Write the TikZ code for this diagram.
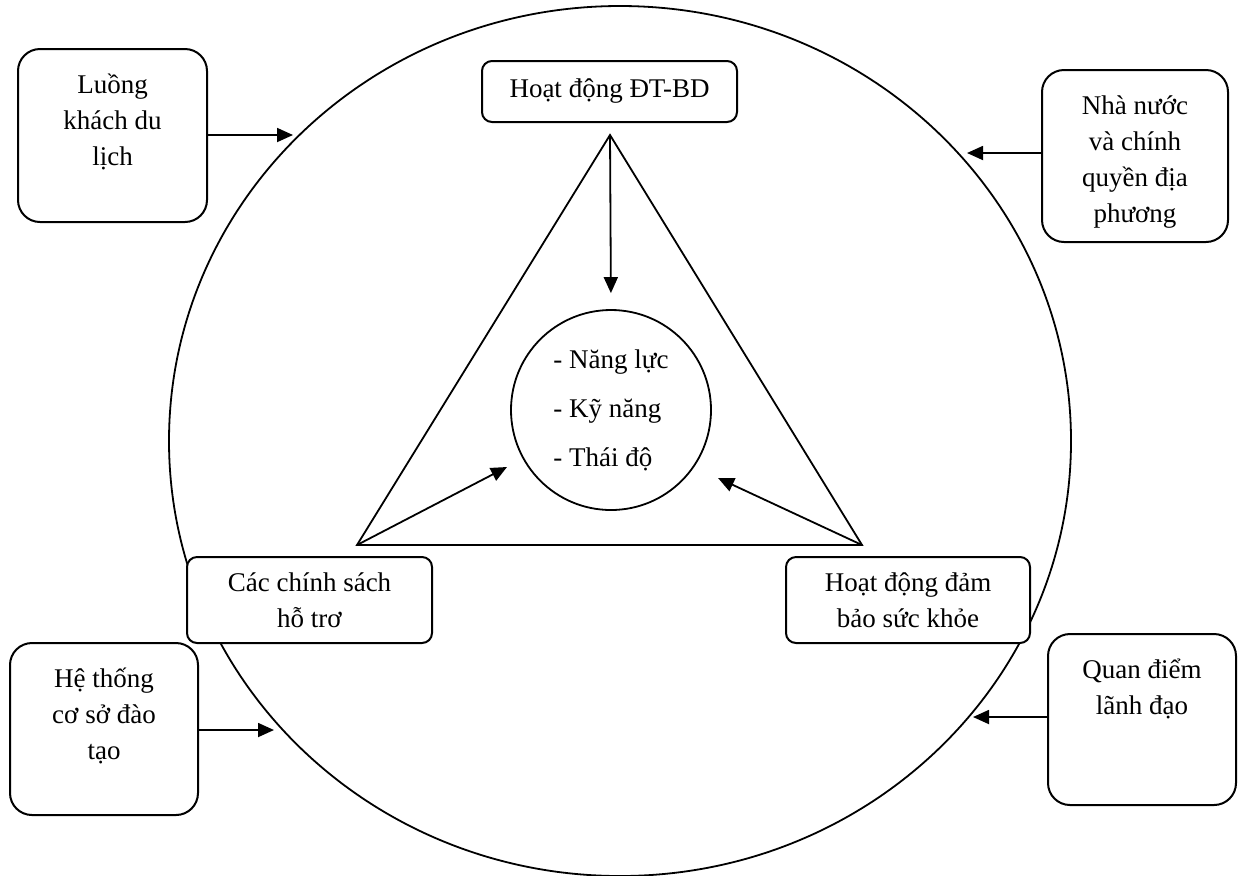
\documentclass[tikz,border=0pt]{standalone}
\usepackage{fontspec}
\setmainfont{Liberation Serif}
\usetikzlibrary{arrows.meta,shapes.geometric}
\newcommand\topcontent[3]{\parbox[c][#2][t]{#1}{\centering\vspace*{9.4pt}\strut #3}}
\tikzset{
  thinline/.style={line width=0.9pt},
  arr/.style={line width=0.9pt,-{Triangle[length=8pt,width=7pt]}},
  tallbox/.style={draw,line width=1pt,rounded corners=11pt,fill=white,inner sep=0pt},
  smallbox/.style={draw,line width=1pt,rounded corners=5pt,fill=white,inner sep=0pt,align=center},
}
\begin{document}
\begin{tikzpicture}[x=0.5pt,y=-0.5pt,font=\fontsize{13.5}{18}\selectfont]
\useasboundingbox (0,0) rectangle (1240,875);
% outer ellipse
\node[draw,ellipse,line width=0.9pt,minimum width=451pt,minimum height=435pt,inner sep=0pt] (big) at (620,441) {};
% triangle
\coordinate (apex) at (610,135);
\coordinate (bl) at (357,545);
\coordinate (br) at (862,545);
\draw[thinline,line join=miter] (apex) -- (bl) -- (br) -- cycle;
% core circle
\node[draw,circle,line width=0.9pt,minimum size=100pt,inner sep=0pt,align=left,font=\fontsize{13.5}{24.5}\selectfont] (core) at (611,410) {- Năng lực\\- Kỹ năng\\- Thái độ};
\coordinate (tl) at (507,467);
\coordinate (tr) at (718,478);
\draw[arr,shorten >=8pt] (apex) -- (core.north);
\draw[arr] (bl) -- (tl);
\draw[arr] (br) -- (tr);
% inner boxes
\node[smallbox,minimum width=127.5pt,minimum height=30.5pt] (dt) at (609.5,91.5) {Hoạt động ĐT-BD};
\node[smallbox,minimum width=122.5pt,minimum height=43pt] (cs) at (309.5,600) {Các chính sách\\hỗ trơ};
\node[smallbox,minimum width=122pt,minimum height=43pt] (hd) at (908,600) {Hoạt động đảm\\bảo sức khỏe};
% outer boxes
\node[tallbox] (lu) at (112.5,135.5) {\topcontent{94.5pt}{86.5pt}{Luồng\\khách du\\lịch}};
\node[tallbox] (nn) at (1135,156) {\topcontent{93pt}{86pt}{Nhà nước\\và chính\\quyền địa\\phương}};
\node[tallbox] (ht) at (104,729) {\topcontent{94pt}{86pt}{Hệ thống\\cơ sở đào\\tạo}};
\node[tallbox] (qd) at (1142,719.5) {\topcontent{94pt}{85.5pt}{Quan điểm\\lãnh đạo}};
% arrow tips on the outer ellipse
\coordinate (luT) at (293,135);
\coordinate (nnT) at (967,153);
\coordinate (htT) at (274,730);
\coordinate (qdT) at (973,717);
\draw[arr] (lu.east |- luT) -- (luT);
\draw[arr] (nn.west |- nnT) -- (nnT);
\draw[arr] (ht.east |- htT) -- (htT);
\draw[arr] (qd.west |- qdT) -- (qdT);
\end{tikzpicture}
\end{document}
